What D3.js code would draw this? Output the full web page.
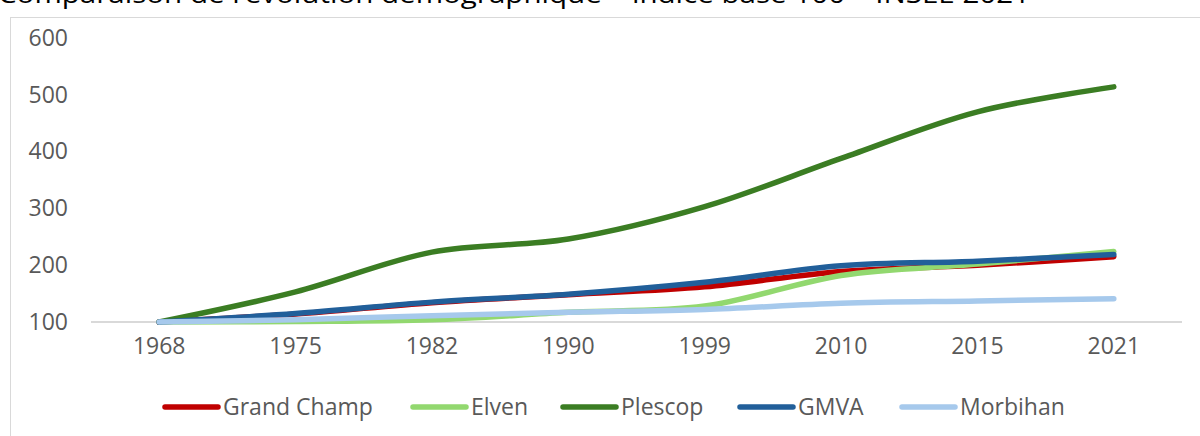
<!DOCTYPE html>
<html>
<head>
<meta charset="utf-8">
<script src="https://d3js.org/d3.v7.min.js"></script>
<style>
  body { margin: 0; background: #fff; overflow: hidden; }
  svg text { font-family: "Open Sans", Lato, sans-serif; }
</style>
</head>
<body>
<div id="chart"></div>
<script>
const years = ["1968", "1975", "1982", "1990", "1999", "2010", "2015", "2021"];
const yTicks = [100, 200, 300, 400, 500, 600];

const grandChamp = [100, 114, 134, 148, 162, 189, 200, 215];
const elven      = [100, 101, 104, 117, 128, 182, 202, 224];
const plescop    = [100, 153, 223, 246, 303, 388, 470, 514];
const gmva       = [100, 115, 135, 149, 170, 199, 207, 219];
const morbihan   = [100, 104, 111, 117, 122, 133, 137, 141];

const seriesNames  = ["Grand Champ", "Elven", "Plescop", "GMVA", "Morbihan"];
const seriesValues = [grandChamp, elven, plescop, gmva, morbihan];
const seriesColors = ["#c00000", "#92d86f", "#3b7d23", "#215f9a", "#a6c9ec"];

const width = 1200, height = 436;
const svg = d3.select("#chart").append("svg")
  .attr("width", width)
  .attr("height", height);

// title (partly cut off at top, as in the original)
svg.append("text")
  .attr("x", -2)
  .attr("y", 3)
  .attr("font-size", 26)
  .attr("fill", "#000")
  .attr("textLength", 1032)
  .attr("lengthAdjust", "spacingAndGlyphs")
  .text("Comparaison de l’évolution démographique – indice base 100 – INSEE 2021");

// chart frame
svg.append("rect")
  .attr("x", 10.5).attr("y", 17.5)
  .attr("width", 1200).attr("height", 440)
  .attr("fill", "#fff")
  .attr("stroke", "#d9d9d9");

const x = d3.scaleBand().domain(years).range([91, 1182]);
const y = d3.scaleLinear().domain([100, 600]).range([322, 38]);

// baseline
svg.append("line")
  .attr("x1", 91).attr("x2", 1182)
  .attr("y1", y(100)).attr("y2", y(100))
  .attr("stroke", "#d9d9d9").attr("stroke-width", 2);

// y axis labels
const yAxis = svg.append("g")
  .attr("transform", "translate(68,0)")
  .call(d3.axisLeft(y).tickValues(yTicks).tickSize(0).tickPadding(0));
yAxis.select(".domain").remove();
yAxis.selectAll("text")
  .attr("font-size", 23)
  .attr("fill", "#595959")
  .attr("font-family", "'Open Sans', Lato, sans-serif");

// x axis labels
const xAxis = svg.append("g")
  .attr("transform", "translate(0,338)")
  .call(d3.axisBottom(x).tickSize(0).tickPadding(0));
xAxis.select(".domain").remove();
xAxis.selectAll("text")
  .attr("font-size", 23)
  .attr("fill", "#595959")
  .attr("font-family", "'Open Sans', Lato, sans-serif");

const line = d3.line()
  .x((d, i) => x(years[i]) + x.bandwidth() / 2)
  .y(d => y(d))
  .curve(d3.curveCatmullRom.alpha(0.5));

seriesValues.forEach((vals, i) => {
  svg.append("path")
    .datum(vals)
    .attr("d", line)
    .attr("fill", "none")
    .attr("stroke", seriesColors[i])
    .attr("stroke-width", 5.5)
    .attr("stroke-linecap", "round")
    .attr("stroke-linejoin", "round");
});

// legend
const legendX = [163, 411, 561, 738, 900];
const legend = svg.append("g");
seriesNames.forEach((name, i) => {
  const g = legend.append("g").attr("transform", `translate(${legendX[i]},407)`);
  g.append("line")
    .attr("x1", 2).attr("x2", 55)
    .attr("stroke", seriesColors[i])
    .attr("stroke-width", 5.5)
    .attr("stroke-linecap", "round");
  g.append("text")
    .attr("x", 60)
    .attr("dy", "0.36em")
    .attr("font-size", 23)
    .attr("fill", "#595959")
    .text(name);
});
</script>
</body>
</html>
